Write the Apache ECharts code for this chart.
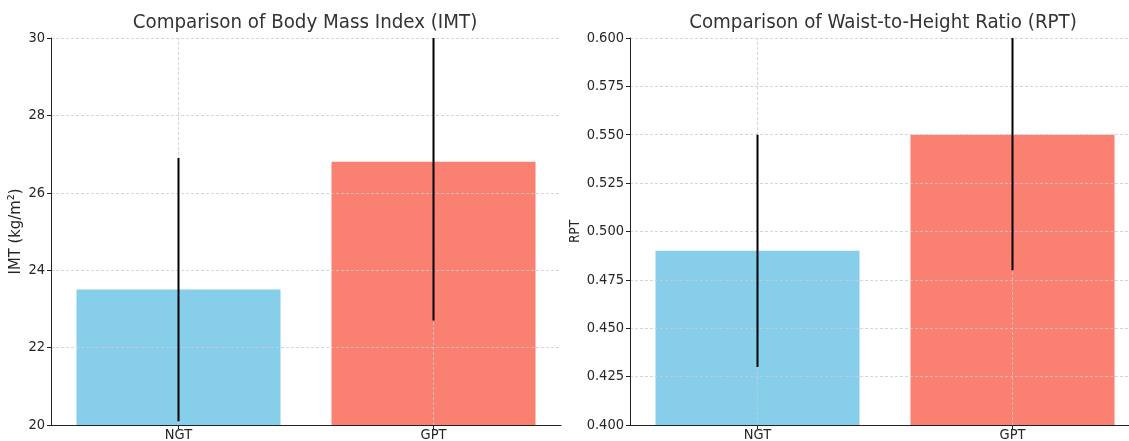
<!DOCTYPE html>
<html>
<head>
<meta charset="utf-8">
<script src="https://cdn.jsdelivr.net/npm/echarts@6/dist/echarts.min.js"></script>
<style>
html,body{margin:0;padding:0;background:#fff;}
#wrap{width:1129px;height:441px;overflow:hidden;position:relative;}
#c{width:1150px;height:441px;position:absolute;left:0;top:0;}
</style>
</head>
<body>
<div id="wrap"><div id="c"></div></div>
<script>
var categories = ['NGT', 'GPT'];
var imtMean = [23.5, 26.8];
var imtSd = [3.4, 4.1];
var rptMean = [0.49, 0.55];
var rptSd = [0.06, 0.07];
var barColors = ['#87CEEB', '#FA8072'];

var FONT = '"DejaVu Sans Condensed", "DejaVu Sans"';
var chart = echarts.init(document.getElementById('c'), null, {renderer: 'canvas'});

function barData(means) {
  return means.map(function (v, i) {
    return {value: v, itemStyle: {color: barColors[i]}};
  });
}
function errData(means, sds) {
  return means.map(function (v, i) { return [i, v, sds[i]]; });
}
function renderErr(params, api) {
  var x = api.value(0), m = api.value(1), s = api.value(2);
  var lo = api.coord([x, m - s]);
  var hi = api.coord([x, m + s]);
  var cs = params.coordSys;
  var y1 = Math.min(Math.max(hi[1], cs.y), cs.y + cs.height);
  var y2 = Math.min(Math.max(lo[1], cs.y), cs.y + cs.height);
  return {
    type: 'line',
    shape: {x1: lo[0], y1: y1, x2: lo[0], y2: y2},
    style: {stroke: '#000', lineWidth: 2}
  };
}
var gridLine = {color: '#cccccc', type: [3, 2], width: 0.8};
var axisLine = {show: true, lineStyle: {color: '#222', width: 1}};

function xAxis(idx) {
  return {
    type: 'category', gridIndex: idx, data: categories, z: 6,
    axisLine: axisLine,
    axisTick: {show: true, alignWithLabel: true, length: 4, lineStyle: {color: '#222'}},
    axisLabel: {fontFamily: FONT, fontSize: 14.5, color: '#262626', margin: 3},
    splitLine: {show: false}
  };
}
function yAxis(idx, min, max, interval, name, fmt, nameSize, nameGap) {
  return {
    type: 'value', gridIndex: idx, min: min, max: max, interval: interval, z: 5,
    name: name, nameLocation: 'middle', nameGap: nameGap, nameRotate: 90,
    nameTextStyle: {fontFamily: FONT, fontSize: nameSize, color: '#262626'},
    axisLine: axisLine,
    axisTick: {show: true, length: 4, lineStyle: {color: '#222'}},
    axisLabel: {fontFamily: FONT, fontSize: 14.5, color: '#262626', margin: 6, formatter: fmt},
    splitLine: {show: true, lineStyle: gridLine}
  };
}
function vMarks() {
  return {
    silent: true, symbol: 'none', label: {show: false},
    lineStyle: gridLine,
    data: categories.map(function (c) { return {xAxis: c}; })
  };
}

chart.setOption({
  animation: false,
  backgroundColor: '#fff',
  title: [
    {text: 'Comparison of Body Mass Index (IMT)', left: 300, top: 8, textAlign: 'center',
     textStyle: {fontFamily: FONT, fontSize: 20.3, fontWeight: 'normal', color: '#333'}},
    {text: 'Comparison of Waist-to-Height Ratio (RPT)', left: 878, top: 8, textAlign: 'center',
     textStyle: {fontFamily: FONT, fontSize: 20.3, fontWeight: 'normal', color: '#333'}}
  ],
  grid: [
    {left: 51, top: 38, width: 510, height: 387, outerBoundsMode: 'none', containLabel: false},
    {left: 630, top: 38, width: 510, height: 387, outerBoundsMode: 'none', containLabel: false}
  ],
  xAxis: [xAxis(0), xAxis(1)],
  yAxis: [
    yAxis(0, 20, 30, 2, 'IMT (kg/m²)', function (v) { return String(v); }, 16.5, 25),
    yAxis(1, 0.4, 0.6, 0.025, 'RPT', function (v) { return v.toFixed(3); }, 13.5, 47)
  ],
  series: [
    {type: 'bar', xAxisIndex: 0, yAxisIndex: 0, barWidth: 204, data: barData(imtMean), markLine: vMarks()},
    {type: 'custom', xAxisIndex: 0, yAxisIndex: 0, z: 10, renderItem: renderErr, data: errData(imtMean, imtSd)},
    {type: 'bar', xAxisIndex: 1, yAxisIndex: 1, barWidth: 204, data: barData(rptMean), markLine: vMarks()},
    {type: 'custom', xAxisIndex: 1, yAxisIndex: 1, z: 10, renderItem: renderErr, data: errData(rptMean, rptSd)}
  ]
});
</script>
</body>
</html>
